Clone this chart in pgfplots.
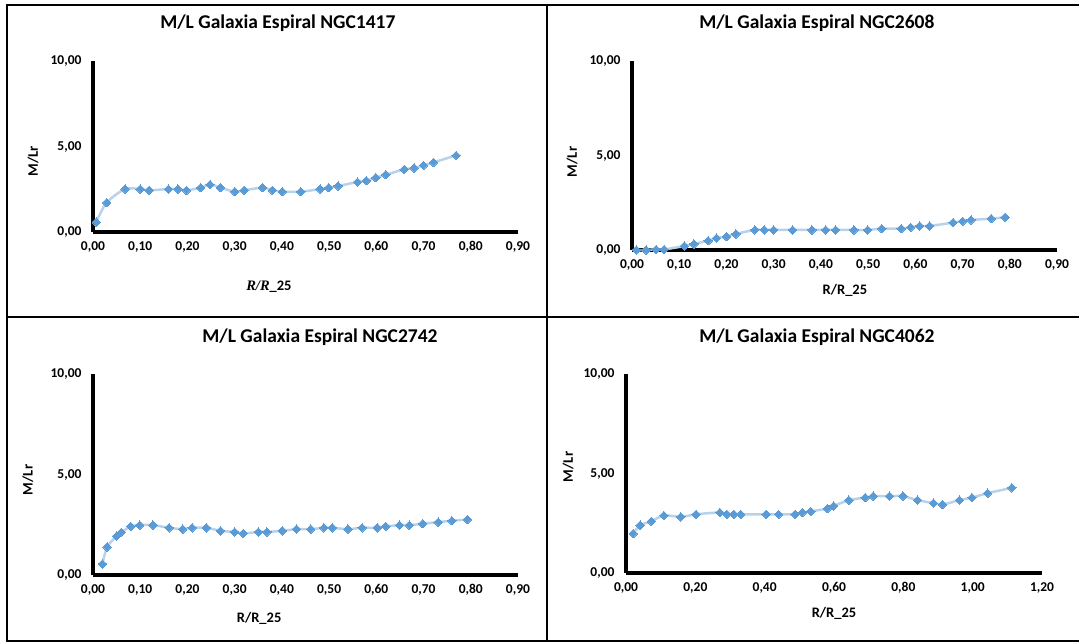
\documentclass[border=0pt]{standalone}
\usepackage{pgfplots}
\pgfplotsset{compat=1.18}
\usepackage{fontspec}
\setmainfont{Carlito}
\newfontfamily\serifbi{Liberation Serif}
\definecolor{mk}{RGB}{91,155,213}
\definecolor{ln}{RGB}{185,210,236}
\pgfplotsset{
 panel/.style={
  scale only axis, axis lines=left, axis line style={-,line width=4pt,black},
  ymin=0,ymax=10,ytick={0,5,10}, xmin=0,
  major tick length=0pt, tick style={draw=none},
  clip=false,
  /pgf/number format/fixed, /pgf/number format/fixed zerofill,
  /pgf/number format/precision=2, /pgf/number format/use comma,
  /pgf/number format/assume math mode=true,
  ticklabel style={font=\bfseries\fontsize{13.5}{15}\selectfont},
  yticklabel style={xshift=-8pt},
  xticklabel style={yshift=-6pt},
  title style={font=\bfseries\fontsize{19.5}{23}\selectfont, anchor=center},
  label style={font=\bfseries\fontsize{14.5}{17}\selectfont, anchor=center},
 },
 ser/.style={color=ln, line width=2.5pt, smooth, mark=square*, mark size=3pt,
   mark options={color=mk, rotate=45, line width=0pt}},
}
\begin{document}
\begin{tikzpicture}[x=1pt,y=1pt]
\useasboundingbox (0,0) rectangle (1079,643);
\begin{scope}[line width=2.5pt]
\draw (7,638) -- (1079,638);
\draw (7,326) -- (1079,326);
\draw (7,2) -- (1079,2);
\draw (7,639.2) -- (7,0.8);
\draw (547,639.2) -- (547,0.8);
\end{scope}

% Panel 1
\begin{axis}[panel, at={(93pt,411pt)}, anchor=origin, width=425pt, height=171pt,
  xmax=0.9, xtick={0,0.1,0.2,0.3,0.4,0.5,0.6,0.7,0.8,0.9},
  title={M/L Galaxia Espiral NGC1417}, title style={at={(0.435,1.187)}},
  xlabel={{\serifbi\bfseries\itshape R/R}\_25}, xlabel style={at={(0.414,-0.322)}},
  ylabel={M/Lr}, ylabel style={at={(-0.141,0.415)}}]
\addplot[ser] coordinates {
(0.007,0.58) (0.029,1.72) (0.068,2.51) (0.100,2.51) (0.119,2.44) (0.160,2.51)
(0.180,2.51) (0.198,2.44) (0.228,2.59) (0.248,2.77) (0.270,2.59) (0.300,2.36)
(0.320,2.44) (0.359,2.59) (0.380,2.44) (0.401,2.36) (0.440,2.36) (0.481,2.51)
(0.499,2.59) (0.519,2.69) (0.560,2.92) (0.579,3.00) (0.599,3.18) (0.620,3.35)
(0.659,3.66) (0.680,3.74) (0.700,3.90) (0.721,4.07) (0.769,4.48)};
\end{axis}

% Panel 2
\begin{axis}[panel, at={(632pt,393pt)}, anchor=origin, width=425pt, height=189pt,
  xmax=0.9, xtick={0,0.1,0.2,0.3,0.4,0.5,0.6,0.7,0.8,0.9},
  title={M/L Galaxia Espiral NGC2608}, title style={at={(0.435,1.169)}},
  xlabel={R/R\_25}, xlabel style={at={(0.501,-0.212)}},
  ylabel={M/Lr}, ylabel style={at={(-0.141,0.466)}}]
\addplot[ser] coordinates {
(0.009,0.00) (0.030,0.00) (0.051,0.03) (0.068,0.03) (0.111,0.21) (0.131,0.32)
(0.161,0.49) (0.179,0.63) (0.200,0.71) (0.220,0.85) (0.260,1.06) (0.280,1.06)
(0.300,1.06) (0.340,1.06) (0.381,1.06) (0.410,1.06) (0.431,1.06) (0.470,1.06)
(0.499,1.06) (0.529,1.13) (0.570,1.13) (0.590,1.20) (0.609,1.27) (0.630,1.27)
(0.680,1.45) (0.700,1.52) (0.718,1.59) (0.761,1.66) (0.790,1.73)};
\end{axis}

% Panel 3
\begin{axis}[panel, at={(93pt,68pt)}, anchor=origin, width=425pt, height=201pt,
  xmax=0.9, xtick={0,0.1,0.2,0.3,0.4,0.5,0.6,0.7,0.8,0.9},
  title={M/L Galaxia Espiral NGC2742}, title style={at={(0.534,1.154)}},
  xlabel={R/R\_25}, xlabel style={at={(0.391,-0.214)}},
  ylabel={M/Lr}, ylabel style={at={(-0.153,0.473)}}]
\addplot[ser] coordinates {
(0.020,0.55) (0.030,1.39) (0.050,1.94) (0.060,2.12) (0.080,2.42) (0.099,2.48)
(0.127,2.48) (0.161,2.35) (0.190,2.28) (0.210,2.35) (0.240,2.35) (0.270,2.20)
(0.300,2.14) (0.318,2.07) (0.350,2.14) (0.368,2.14) (0.401,2.20) (0.431,2.28)
(0.461,2.28) (0.489,2.35) (0.507,2.35) (0.540,2.28) (0.570,2.35) (0.602,2.35)
(0.620,2.42) (0.649,2.48) (0.670,2.48) (0.698,2.55) (0.731,2.63) (0.760,2.70)
(0.793,2.76)};
\end{axis}

% Panel 4
\begin{axis}[panel, at={(626pt,70pt)}, anchor=origin, width=416pt, height=199pt,
  xmax=1.2, xtick={0,0.2,0.4,0.6,0.8,1.0,1.2},
  title={M/L Galaxia Espiral NGC4062}, title style={at={(0.459,1.156)}},
  xlabel={R/R\_25}, xlabel style={at={(0.5,-0.201)}},
  ylabel={M/Lr}, ylabel style={at={(-0.139,0.533)}}]
\addplot[ser] coordinates {
(0.021,1.98) (0.041,2.40) (0.073,2.60) (0.109,2.89) (0.158,2.82) (0.202,2.95)
(0.271,3.04) (0.291,2.95) (0.311,2.95) (0.331,2.95) (0.404,2.95) (0.440,2.95)
(0.488,2.95) (0.509,3.04) (0.533,3.10) (0.581,3.24) (0.599,3.37) (0.643,3.66)
(0.690,3.79) (0.713,3.86) (0.760,3.86) (0.799,3.86) (0.841,3.66) (0.887,3.51)
(0.913,3.44) (0.962,3.66) (0.998,3.79) (1.043,4.01) (1.113,4.28)};
\end{axis}
\end{tikzpicture}
\end{document}
